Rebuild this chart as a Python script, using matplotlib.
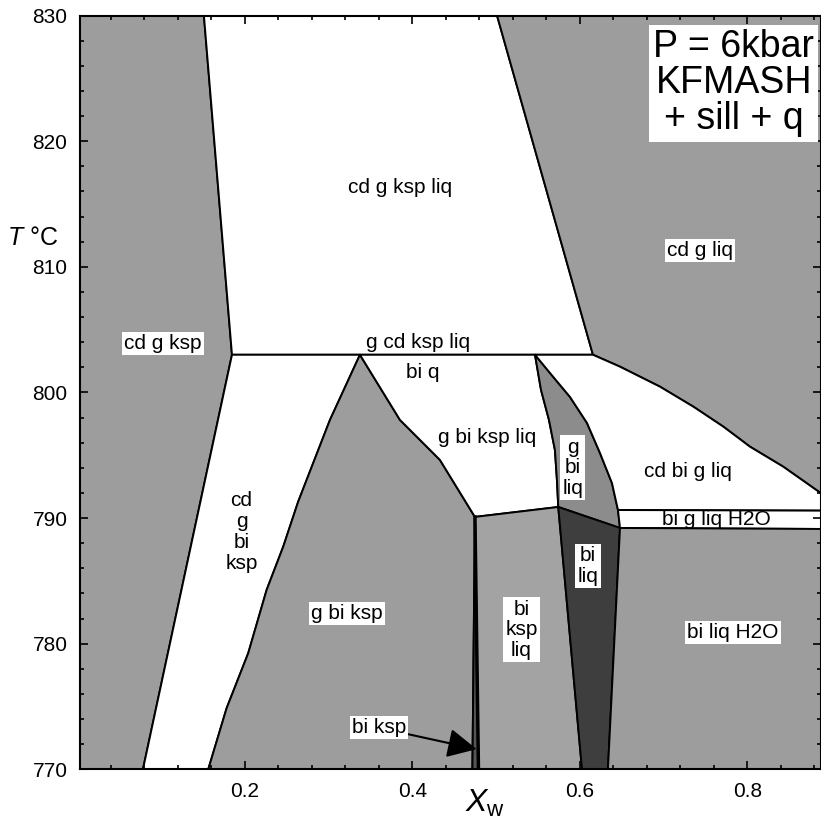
import matplotlib.pyplot as plt
from matplotlib.ticker import MultipleLocator

plt.rcParams['font.family'] = ['Liberation Sans', 'DejaVu Sans']
plt.rcParams['mathtext.fontset'] = 'custom'
plt.rcParams['mathtext.it'] = 'Liberation Sans:italic'
plt.rcParams['mathtext.rm'] = 'Liberation Sans'

# phase field outlines (x = X_w, y = T in degC)
cdgksp_x = [0.003, 0.151, 0.1845, 0.0782, 0.003]
cdgksp_t = [830, 830, 803, 770, 770]

cdgkspliq_x = [0.151, 0.501, 0.6155, 0.1845]
cdgkspliq_t = [830, 830, 803, 803]

cdgliq_x = [0.501, 0.8878, 0.8878, 0.8427, 0.8030, 0.7711, 0.7353, 0.6955, 0.6478, 0.6155]
cdgliq_t = [830, 830, 791.97, 794.09, 795.68, 797.28, 798.87, 800.46, 802.05, 803]

cdgbiksp_x = [0.1845, 0.3373, 0.3015, 0.2636, 0.2457, 0.2259, 0.2039, 0.1781, 0.1562, 0.0782]
cdgbiksp_t = [803, 803, 797.81, 791.31, 787.72, 784.28, 779.24, 774.86, 770, 770]

gbiksp_x = [0.1562, 0.1781, 0.2039, 0.2259, 0.2457, 0.2636, 0.3015, 0.3373,
            0.3851, 0.4328, 0.4746, 0.4716]
gbiksp_t = [770, 774.86, 779.24, 784.28, 787.72, 791.31, 797.81, 803,
            797.81, 794.63, 790.09, 770]

biksp_x = [0.4746, 0.4716, 0.4788]
biksp_t = [790.09, 770, 770]

gbikspliq_x = [0.3373, 0.5463, 0.5535, 0.5630, 0.5701, 0.5725, 0.5741, 0.4746, 0.4328, 0.3851]
gbikspliq_t = [803, 803, 800.2, 797.81, 795.42, 793.03, 790.88, 790.09, 794.63, 797.81]

bikspliq_x = [0.4746, 0.5741, 0.6024, 0.4788]
bikspliq_t = [790.09, 790.88, 770, 770]

gbiliq_x = [0.5463, 0.5535, 0.5630, 0.5701, 0.5725, 0.5741, 0.6478, 0.6454,
            0.6382, 0.6239, 0.6084, 0.5881, 0.5642]
gbiliq_t = [803, 800.2, 797.81, 795.42, 793.03, 790.88, 789.21, 790.64,
            792.79, 795.18, 797.57, 799.64, 801.55]

biliq_x = [0.5741, 0.6478, 0.6334, 0.6024]
biliq_t = [790.88, 789.21, 770, 770]

cdbigliq_x = [0.5463, 0.6155, 0.6478, 0.6955, 0.7353, 0.7711, 0.8030, 0.8427, 0.8878,
              0.8878, 0.6454, 0.6382, 0.6239, 0.6084, 0.5881, 0.5642]
cdbigliq_t = [803, 803, 802.05, 800.46, 798.87, 797.28, 795.68, 794.09, 791.97,
              790.59, 790.64, 792.79, 795.18, 797.57, 799.64, 801.55]

bigliqh2o_x = [0.6454, 0.8878, 0.8878, 0.6478]
bigliqh2o_t = [790.64, 790.59, 789.13, 789.21]

biliqh2o_x = [0.6478, 0.8878, 0.8878, 0.6334]
biliqh2o_t = [789.21, 789.13, 770, 770]

# field labels: text, x, T, white box
labels = [
    ('cd g ksp liq', 0.385, 816.3, False),
    ('cd g liq', 0.743, 811.3, True),
    ('cd g ksp', 0.102, 803.9, True),
    ('g cd ksp liq', 0.4066, 804.0, False),
    ('bi q', 0.4125, 801.55, False),
    ('g bi ksp liq', 0.4889, 796.45, False),
    ('g\nbi\nliq', 0.5916, 794.0, True),
    ('cd bi g liq', 0.729, 793.7, False),
    ('bi g liq H2O', 0.763, 789.85, False),
    ('cd\ng\nbi\nksp', 0.196, 788.9, False),
    ('g bi ksp', 0.3214, 782.4, True),
    ('bi\nksp\nliq', 0.530, 781.1, True),
    ('bi\nliq', 0.6096, 786.2, True),
    ('bi liq H2O', 0.7827, 780.9, True),
]

fig = plt.figure(figsize=(8.21, 8.21), dpi=100)
ax = fig.add_axes([0.0974, 0.063, 0.9026, 0.918])

gray = '#9d9d9d'
fields = [
    (cdgksp_x, cdgksp_t, gray),
    (cdgkspliq_x, cdgkspliq_t, 'white'),
    (cdgliq_x, cdgliq_t, gray),
    (cdgbiksp_x, cdgbiksp_t, 'white'),
    (gbiksp_x, gbiksp_t, gray),
    (gbikspliq_x, gbikspliq_t, 'white'),
    (bikspliq_x, bikspliq_t, '#a3a3a3'),
    (gbiliq_x, gbiliq_t, '#8c8c8c'),
    (biliq_x, biliq_t, '#3e3e3e'),
    (cdbigliq_x, cdbigliq_t, 'white'),
    (bigliqh2o_x, bigliqh2o_t, 'white'),
    (biliqh2o_x, biliqh2o_t, gray),
    (biksp_x, biksp_t, '#555555'),
]
for xs, ts, c in fields:
    ax.fill(xs, ts, facecolor=c, edgecolor='black', linewidth=1.4, joinstyle='round')

# thick line on the bi ksp strip
ax.plot([biksp_x[0], biksp_x[2]], [biksp_t[0], biksp_t[2]], color='black', linewidth=2.5)

for txt, x, t, boxed in labels:
    kw = {}
    if boxed:
        kw['bbox'] = dict(facecolor='white', edgecolor='none', pad=1.5)
    ax.text(x, t, txt, ha='center', va='center', fontsize=15, linespacing=1.12, **kw)

ax.annotate('bi ksp', xy=(0.4767, 771.6), xytext=(0.360, 773.3),
            ha='center', va='center', fontsize=15,
            bbox=dict(facecolor='white', edgecolor='none', pad=1.5),
            arrowprops=dict(arrowstyle='-|>,head_length=0.6,head_width=0.3', color='black',
                            lw=1.5, mutation_scale=30, shrinkA=0, shrinkB=0))

ax.text(0.7835, 824.6, 'P = 6kbar\nKFMASH\n+ sill + q', ha='center', va='center',
        fontsize=27, linespacing=1.0,
        bbox=dict(facecolor='white', edgecolor='none', pad=3))

ax.set_xlim(0.003, 0.8878)
ax.set_ylim(770, 830)
ax.xaxis.set_major_locator(MultipleLocator(0.2))
ax.xaxis.set_minor_locator(MultipleLocator(0.04))
ax.yaxis.set_major_locator(MultipleLocator(10))
ax.yaxis.set_minor_locator(MultipleLocator(2))
ax.tick_params(which='both', direction='in', top=True, right=True, labelsize=15, width=1.2)
ax.tick_params(which='major', length=6, pad=9)
ax.tick_params(which='minor', length=3)
ax.set_xticks([0.2, 0.4, 0.6, 0.8])
ax.set_xticklabels(['0.2', '0.4', '0.6', '0.8'])
for s in ax.spines.values():
    s.set_linewidth(1.5)

ax.text(-0.099, 812.3, '$T$ °C', transform=ax.get_yaxis_transform(),
        ha='left', va='center', fontsize=18)
ax.text(0.4866, -0.045, '$X_\\mathrm{w}$', transform=ax.get_xaxis_transform(),
        ha='center', va='center', fontsize=23)

plt.savefig('out.png', dpi=100)
